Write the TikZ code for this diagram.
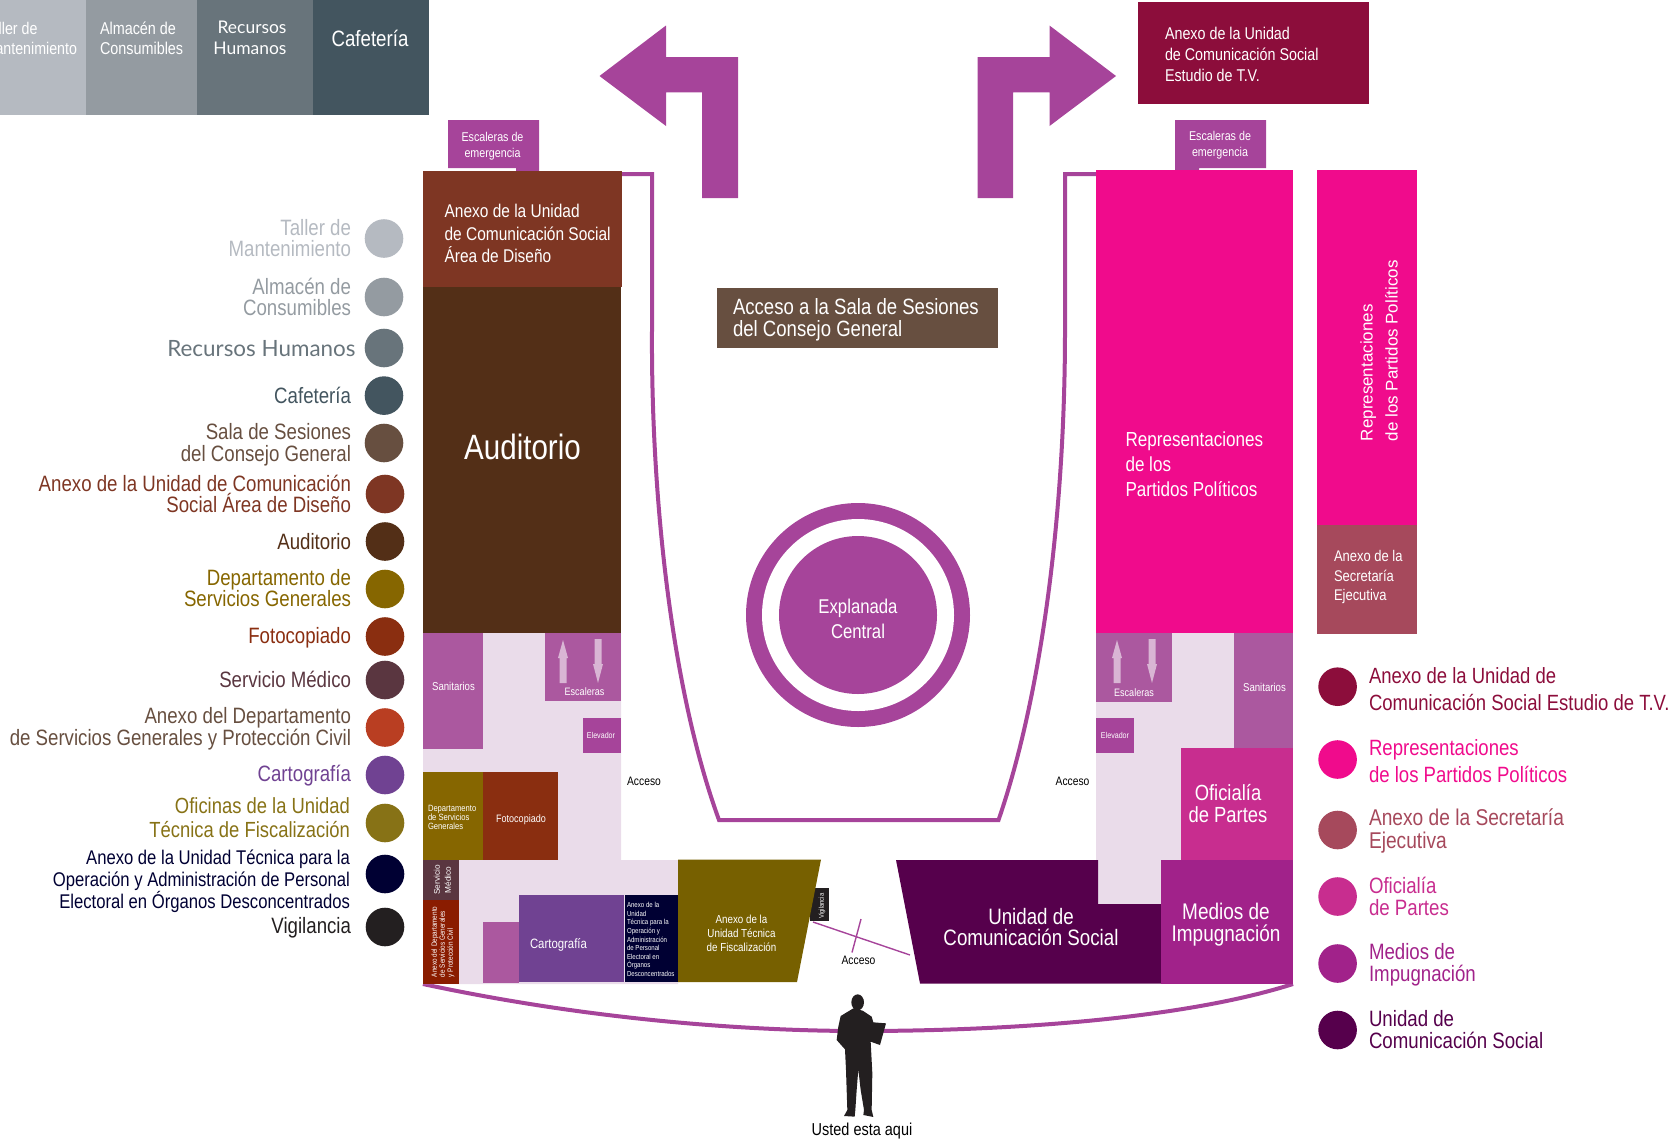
\documentclass[tikz,border=0pt]{standalone}
\usepackage{fontspec}
\setmainfont[FakeStretch=0.84]{Liberation Sans}
\newfontfamily\plainfam{Liberation Sans}
\newfontfamily\humfam{Lato}
\newcommand{\tsz}[2]{\fontsize{#1}{#2}\selectfont}
\definecolor{mag}{HTML}{A6449A}
\definecolor{sani}{HTML}{AB589F}
\definecolor{floorc}{HTML}{EADCEA}
\definecolor{arrowc}{HTML}{D9B5D4}
\definecolor{cTaller}{HTML}{B5BAC1}
\definecolor{cAlmacen}{HTML}{949BA1}
\definecolor{cRH}{HTML}{68747B}
\definecolor{cCaf}{HTML}{43555F}
\definecolor{cSala}{HTML}{674F40}
\definecolor{cDis}{HTML}{7E3623}
\definecolor{cAud}{HTML}{532F17}
\definecolor{cDep}{HTML}{866600}
\definecolor{cFoto}{HTML}{8A2E10}
\definecolor{cMed}{HTML}{5A3640}
\definecolor{cAnDep}{HTML}{B93E22}
\definecolor{cAnDepB}{HTML}{8A1C00}
\definecolor{cCart}{HTML}{704292}
\definecolor{cOfi}{HTML}{877216}
\definecolor{cFis}{HTML}{776000}
\definecolor{cUT}{HTML}{000033}
\definecolor{cVig}{HTML}{231F20}
\definecolor{cTV}{HTML}{8C0D3B}
\definecolor{cRep}{HTML}{F00B8C}
\definecolor{cSec}{HTML}{A6495C}
\definecolor{cOfp}{HTML}{C82D8F}
\definecolor{cImp}{HTML}{A1228A}
\definecolor{cUCS}{HTML}{56004C}
\tikzset{
 txt/.style={inner sep=0pt,outer sep=0pt,text=white},
 ltxt/.style={txt,align=left,anchor=west},
 ctxt/.style={txt,align=center},
 legl/.style={inner sep=0pt,outer sep=0pt,align=right,anchor=east,font=\tsz{22.3}{21.7}},
 legr/.style={inner sep=0pt,outer sep=0pt,align=left,anchor=west,font=\tsz{22.3}{22}},
 dot/.style={circle,minimum size=38.6bp,inner sep=0pt,draw=none},
 wall/.style={draw=mag,line width=4bp},
 updown/.style={fill=arrowc,draw=none}
}
\begin{document}
\begin{tikzpicture}[x=1bp,y=-1bp]
\useasboundingbox (0,0) rectangle (1680,1139);
\clip (0,0) rectangle (1680,1139);
% top strip
\fill[cTaller] (0,0) rectangle (86,115);
\fill[cAlmacen] (86,0) rectangle (197,115);
\fill[cRH] (197,0) rectangle (313,115);
\fill[cCaf] (313,0) rectangle (429,115);
\node[txt,align=left,anchor=east,font=\tsz{17}{20}] (tTaller) at (77,38.5) {Taller de\\Mantenimiento};
\node[ltxt,font=\tsz{17.2}{20.6}] (tAlm) at (100,38.5) {Almacén de\\Consumibles};
\node[txt,align=right,anchor=east,font=\humfam\tsz{17.5}{21.4}] (tRH) at (286.5,38) {Recursos\\Humanos};
\node[ctxt,font=\tsz{22.3}{22}] (tCaf) at (370,38) {Cafetería};
% walk arrows
\fill[mag] (599.5,76) -- (666,25.5) -- (666,57) -- (738,57) -- (738,198) -- (702,198) -- (702,92.4) -- (666,92.4) -- (666,126) -- cycle;
\fill[mag] (1116,76) -- (1049.5,25.5) -- (1049.5,57) -- (977.7,57) -- (977.7,198) -- (1013,198) -- (1013,92.4) -- (1049.5,92.4) -- (1049.5,126) -- cycle;
% TV annex
\fill[cTV] (1138,2) rectangle (1369,104);
\node[ltxt,font=\tsz{17.1}{21}] (tTV) at (1165,54) {Anexo de la Unidad\\de Comunicación Social\\Estudio de T.V.};
% emergency stairs
\fill[mag] (448,120) -- (539,120) -- (539,172) -- (516,172) -- (516,168) -- (448,168) -- cycle;
\node[ctxt,font=\tsz{12.8}{16}] (tEmL) at (492.5,146.5) {Escaleras de\\emergencia};
\fill[mag] (1175,120) -- (1266,120) -- (1266,168) -- (1199,168) -- (1199,172) -- (1175,172) -- cycle;
\node[ctxt,font=\tsz{12.8}{16}] (tEmR) at (1220,145) {Escaleras de\\emergencia};
% plaza walls
\draw[wall] (622,174) -- (652,174) -- (652,330) .. controls (651,480) and (668,680) .. (719,820) -- (998.5,820) .. controls (1040,700) and (1065,520) .. (1065,330) -- (1065,174) -- (1096,174);
\draw[wall] (423,984) .. controls (600,1022) and (760,1031) .. (860,1031) .. controls (1000,1031) and (1180,1020) .. (1293,984);
% left wing
\fill[cDis] (423,171) rectangle (622,287);
\node[ltxt,font=\tsz{18.5}{22.5}] (tDis) at (444.6,233.5) {Anexo de la Unidad\\de Comunicación Social\\Área de Diseño};
\fill[cAud] (423,287) rectangle (621,633);
\node[ctxt,font=\tsz{35.3}{35}] (tAud) at (522.5,446.5) {Auditorio};
\fill[floorc] (423,633) -- (621,633) -- (621,860) -- (678,860) -- (678,984) -- (423,984) -- cycle;
\fill[sani] (423,633) rectangle (483,748.5);
\node[ctxt,font=\tsz{11.5}{12}] (tSanL) at (453.5,686) {Sanitarios};
\fill[sani] (545,633) rectangle (621,701);
\fill[updown] (563,640) -- (568,658) -- (566.5,658) -- (566.5,683) -- (559.5,683) -- (559.5,658) -- (558,658) -- cycle;
\fill[updown] (598,683) -- (593,664) -- (594.5,664) -- (594.5,639) -- (601.5,639) -- (601.5,664) -- (603,664) -- cycle;
\node[ctxt,font=\tsz{10.8}{11}] (tEscL) at (584.5,692) {Escaleras};
\fill[mag] (583,718) rectangle (621,752.5);
\node[ctxt,font=\tsz{8.5}{9}] (tElL) at (601,735) {Elevador};
\node[ctxt,text=black,font=\tsz{12.3}{13}] (tAcL) at (644,781.6) {Acceso};
\fill[cDep] (423,772) rectangle (483,860);
\node[ltxt,font=\tsz{9.1}{9}] (tDep) at (428,817.5) {Departamento\\de Servicios\\Generales};
\fill[cFoto] (483,772) rectangle (558,860);
\node[ctxt,font=\tsz{10.8}{11}] (tFoto) at (521,820) {Fotocopiado};
\fill[cMed] (423,860) rectangle (459,900);
\node[ctxt,rotate=90,font=\plainfam\tsz{8.3}{11}] (tMed) at (442.5,880) {Servicio\\Médico};
\fill[cAnDepB] (423,900) rectangle (459,984);
\node[txt,align=left,anchor=west,rotate=90,font=\tsz{7.6}{8}] (tAnDep) at (443,977) {Anexo del Departamento\\de Servicios Generales\\y Protección Civil};
\fill[sani] (483,922) rectangle (519,983);
\fill[cCart] (519,895) rectangle (624,982);
\node[ltxt,font=\tsz{13.6}{14}] (tCart) at (530,945) {Cartografía};
\fill[cUT] (625,895) rectangle (678,982);
\node[ltxt,font=\tsz{7.3}{8.6}] (tUT) at (627,939.5) {Anexo de la\\Unidad\\Técnica para la\\Operación y\\Administración\\de Personal\\Electoral en\\Órganos\\Desconcentrados};
\fill[cVig] (810,888) rectangle (829,921);
\fill[cFis] (678,859.5) -- (821,859.5) -- (797,982) -- (678,982) -- cycle;
\node[ctxt,rotate=90,font=\tsz{7}{7}] (tVig) at (822,906) {Vigilancia};
\node[ctxt,font=\tsz{11.7}{14}] (tFis) at (741.5,933) {Anexo de la\\Unidad Técnica\\de Fiscalización};
% access line
\coordinate (acA) at (813,922); \coordinate (acB) at (910,955);
\coordinate (acC) at (861,919); \coordinate (acD) at (852,952.5);
\draw[mag,line width=1.4bp] (acA) -- (acB);
\draw[mag,line width=1.4bp] (acC) -- (acD);
\node[ctxt,text=black,font=\tsz{12.3}{13}] (tAcB) at (858.5,960) {Acceso};
% right wing
\fill[cRep] (1096,170) rectangle (1293,633);
\node[ltxt,font=\tsz{20.4}{25.2}] (tRep) at (1125.5,464.4) {Representaciones\\de los\\Partidos Políticos};
\fill[cRep] (1317,170) rectangle (1417,525);
\fill[cSec] (1317,525) rectangle (1417,634);
\node[txt,align=left,anchor=west,rotate=90,font=\plainfam\tsz{17}{25}] (tRepV) at (1379,441) {Representaciones\\de los Partidos Políticos};
\node[ltxt,font=\tsz{15.5}{19.5}] (tSec) at (1334,577) {Anexo de la\\Secretaría\\Ejecutiva};
\fill[floorc] (1096,633) rectangle (1293,860);
\fill[floorc] (1098,860) rectangle (1161,904);
\fill[sani] (1096,633) rectangle (1172,702);
\fill[updown] (1117,640) -- (1122,658) -- (1120.5,658) -- (1120.5,683) -- (1113.5,683) -- (1113.5,658) -- (1112,658) -- cycle;
\fill[updown] (1152,683) -- (1147,664) -- (1148.5,664) -- (1148.5,639) -- (1155.5,639) -- (1155.5,664) -- (1157,664) -- cycle;
\node[ctxt,font=\tsz{10.8}{11}] (tEscR) at (1134,692.5) {Escaleras};
\fill[sani] (1234,633) rectangle (1293,747.5);
\node[ctxt,font=\tsz{11.5}{12}] (tSanR) at (1264.5,687.5) {Sanitarios};
\fill[mag] (1096,718) rectangle (1134,752.5);
\node[ctxt,font=\tsz{8.5}{9}] (tElR) at (1115,735) {Elevador};
\node[ctxt,text=black,font=\tsz{12.3}{13}] (tAcR) at (1072.5,781.6) {Acceso};
\fill[cOfp] (1181,747.5) rectangle (1293,859.5);
\node[ctxt,font=\tsz{22}{22.5}] (tOfp) at (1228,803.5) {Oficialía\\de Partes};
\fill[cUCS] (896,860) -- (1098,860) -- (1098,904) -- (1161,904) -- (1161,983.5) -- (920,983.5) -- cycle;
\node[ctxt,font=\tsz{22.4}{21.5}] (tUCS) at (1031,927) {Unidad de\\Comunicación Social};
\fill[cImp] (1161,859.5) rectangle (1293,983.5);
\node[ctxt,font=\tsz{22.7}{22}] (tImp) at (1226,925) {Medios de\\Impugnación};
% council access
\fill[cSala] (717,288) rectangle (998,348);
\node[ltxt,font=\tsz{22.2}{22}] (tSala) at (733,320) {Acceso a la Sala de Sesiones\\del Consejo General};
% esplanade
\fill[mag] (858,615) circle[radius=112];
\fill[white] (858,615) circle[radius=96];
\fill[mag] (858,615) circle[radius=79];
\node[ctxt,font=\tsz{20}{25}] (tExp) at (858,618.5) {Explanada\\Central};
% visitor figure
\begin{scope}[shift={(820,990)},x=0.3333bp,y=-0.3333bp]
\fill[cVig] (113,37) ellipse[x radius=19,y radius=24];
\fill[cVig] (100,55) -- (62,78) -- (55,110) -- (50,150) -- (75,178) -- (78,240) -- (82,360) -- (72,378) -- (104,380) -- (106,360) -- (110,300) -- (115,238) -- (122,300) -- (132,360) -- (130,375) -- (160,381) -- (155,360) -- (157,250) -- (152,155) -- (180,165) -- (198,100) -- (160,97) -- (155,80) -- (128,62) -- cycle;
\end{scope}
\node[ctxt,text=black,font=\tsz{17.3}{18}] (tAqui) at (862,1131) {Usted esta aqui};
% left legend
\node[dot,fill=cTaller] (d1) at (384,238.5) {};
\node[legl,text=cTaller] (l1) at (351,238) {Taller de\\Mantenimiento};
\node[dot,fill=cAlmacen] (d2) at (384,297) {};
\node[legl,text=cAlmacen] (l2) at (351,297) {Almacén de\\Consumibles};
\node[dot,fill=cRH] (d3) at (384,348) {};
\node[legl,text=cRH,font=\humfam\tsz{22.5}{23}] (l3) at (355.5,348.5) {Recursos Humanos};
\node[dot,fill=cCaf] (d4) at (384,395.6) {};
\node[legl,text=cCaf] (l4) at (351,395.6) {Cafetería};
\node[dot,fill=cSala] (d5) at (384,443) {};
\node[legl,text=cSala] (l5) at (351,445) {Sala de Sesiones\\del Consejo General};
\node[dot,fill=cDis] (d6) at (385,494) {};
\node[legl,text=cDis] (l6) at (351,494) {Anexo de la Unidad de Comunicación\\Social Área de Diseño};
\node[dot,fill=cAud] (d7) at (385,541.5) {};
\node[legl,text=cAud] (l7) at (351,541.5) {Auditorio};
\node[dot,fill=cDep] (d8) at (385,589) {};
\node[legl,text=cDep] (l8) at (351,588) {Departamento de\\Servicios Generales};
\node[dot,fill=cFoto] (d9) at (385,636.5) {};
\node[legl,text=cFoto] (l9) at (351,638) {Fotocopiado};
\node[dot,fill=cMed] (d10) at (385,680) {};
\node[legl,text=cMed] (l10) at (351,679) {Servicio Médico};
\node[dot,fill=cAnDep] (d11) at (385,727.5) {};
\node[legl,text=cSala] (l11) at (351,729) {Anexo del Departamento\\de Servicios Generales y Protección Civil};
\node[dot,fill=cCart] (d12) at (385,775) {};
\node[legl,text=cCart] (l12) at (351,776) {Cartografía};
\node[dot,fill=cOfi] (d13) at (385,823) {};
\node[legl,text=cOfi,font=\tsz{22}{24.7}] (l13) at (350,817.5) {Oficinas de la Unidad\\Técnica de Fiscalización};
\node[dot,fill=cUT] (d14) at (385,874) {};
\node[legl,text=cUT,font=\tsz{19.9}{22}] (l14) at (350,881) {Anexo de la Unidad Técnica para la\\Operación y Administración de Personal\\Electoral en Órganos Desconcentrados};
\node[dot,fill=cVig] (d15) at (385,927) {};
\node[legl,text=cVig] (l15) at (351,928) {Vigilancia};
% right legend
\node[dot,fill=cTV] (r1) at (1337.6,686.7) {};
\node[legr,text=cTV,font=\tsz{22.1}{27}] (s1) at (1369,689) {Anexo de la Unidad de\\Comunicación Social Estudio de T.V.};
\node[dot,fill=cRep] (r2) at (1337.6,759.5) {};
\node[legr,text=cRep,font=\tsz{22.2}{27}] (s2) at (1369,761) {Representaciones\\de los Partidos Políticos};
\node[dot,fill=cSec] (r3) at (1337.6,830) {};
\node[legr,text=cSec,font=\tsz{22.9}{23}] (s3) at (1369,830.5) {Anexo de la Secretaría\\Ejecutiva};
\node[dot,fill=cOfp] (r4) at (1337.6,896.5) {};
\node[legr,text=cOfp] (s4) at (1369,896) {Oficialía\\de Partes};
\node[dot,fill=cImp] (r5) at (1337.6,963.5) {};
\node[legr,text=cImp] (s5) at (1369,965) {Medios de\\Impugnación};
\node[dot,fill=cUCS] (r6) at (1337.6,1030) {};
\node[legr,text=cUCS] (s6) at (1369,1030) {Unidad de\\Comunicación Social};
\end{tikzpicture}
\end{document}
